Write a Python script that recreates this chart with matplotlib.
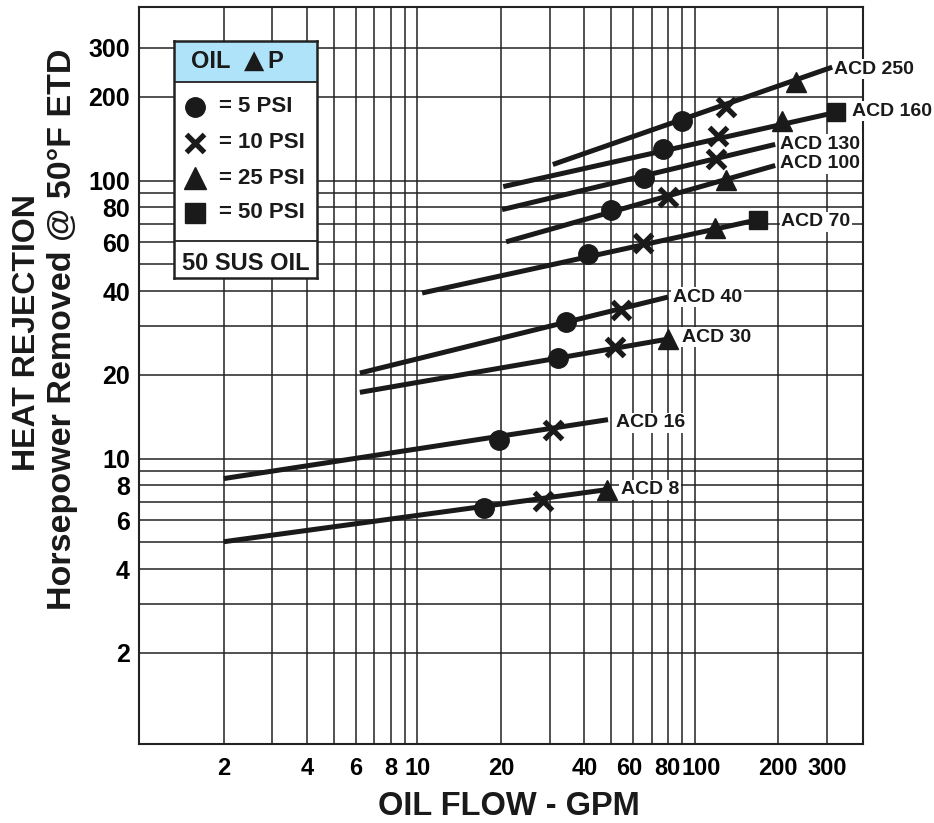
import matplotlib
matplotlib.use('Agg')
import matplotlib.pyplot as plt
from matplotlib.patches import Rectangle
from matplotlib.ticker import NullFormatter
from matplotlib.transforms import ScaledTranslation

plt.rcParams['font.family'] = ['Liberation Sans', 'DejaVu Sans']
plt.rcParams['font.weight'] = 'bold'

# heat exchanger models, lines (flow GPM, HP removed)
models = ['ACD 8', 'ACD 16', 'ACD 30', 'ACD 40', 'ACD 70',
          'ACD 100', 'ACD 130', 'ACD 160', 'ACD 250']
line_flow_start = [2.0, 2.0, 6.2, 6.2, 10.4, 20.9, 20.2, 20.4, 30.8]
line_hp_start = [5.02, 8.47, 17.3, 20.3, 39.4, 60.2, 78.6, 95.1, 114.2]
line_flow_end = [48.3, 48.7, 80.2, 80.2, 169.5, 195.3, 195.3, 324.2, 313.6]
line_hp_end = [7.73, 13.8, 26.9, 38.1, 72.3, 113.3, 134.9, 176.0, 255.8]

# pressure drop points (None = no point on that line)
flow_5psi = [17.4, 19.7, 32.2, 34.4, 41.3, 49.9, 65.7, 76.9, 90.1]
hp_5psi = [6.65, 11.7, 23.0, 31.0, 54.5, 78.6, 102.5, 129.4, 163.3]
flow_10psi = [28.4, 30.8, 51.6, 54.3, 65.2, 80.2, 119.6, 121.6, 130.0]
hp_10psi = [7.05, 12.7, 25.2, 34.2, 59.7, 87.5, 119.1, 144.1, 183.4]
flow_25psi = [48.3, None, 80.2, None, 118.6, 130.0, None, 206.9, 232.5]
hp_25psi = [7.73, None, 26.9, None, 67.7, 100.8, None, 163.3, 225.9]
flow_50psi = [None, None, None, None, 169.5, None, None, 324.2, None]
hp_50psi = [None, None, None, None, 72.3, None, None, 176.0, None]

tick_vals = [2, 4, 6, 8, 10, 20, 40, 60, 80, 100, 200, 300]
grid_vals = [2, 3, 4, 5, 6, 7, 8, 9, 10, 20, 30, 40, 50, 60, 70, 80, 90,
             100, 200, 300]

# label offsets (points) from the end of each line
label_offsets = [(10, 0), (5.8, -2.2), (10, 1.4), (3.6, 0), (16.6, -1.4),
                 (3.6, 1.4), (3.6, 0), (11.5, 0.7), (1.5, -1.5)]

fig = plt.figure(figsize=(9.34, 8.23), dpi=100)
ax = fig.add_axes([139 / 934, 1 - 744 / 823, 724 / 934, 737 / 823])
ax.set_xscale('log')
ax.set_yscale('log')
ax.set_xlim(0.99, 405)
ax.set_ylim(0.94, 421)

ax.set_xticks(tick_vals)
ax.set_xticklabels([str(v) for v in tick_vals], fontsize=17)
ax.set_yticks(tick_vals)
ax.set_yticklabels([str(v) for v in tick_vals], fontsize=18)
ax.set_xticks(grid_vals, minor=True)
ax.set_yticks(grid_vals, minor=True)
ax.xaxis.set_minor_formatter(NullFormatter())
ax.yaxis.set_minor_formatter(NullFormatter())
ax.tick_params(which='both', length=0)
ax.tick_params(axis='x', pad=9.5)
ax.tick_params(axis='y', pad=6.5)
ax.grid(True, which='both', color='#222222', lw=1.1)
ax.set_axisbelow(True)
for s in ax.spines.values():
    s.set_linewidth(1.5)
    s.set_color('#222222')

# nudge the crowded 60 / 100 labels apart like the original
nudge = {60: -3.0, 100: 5.0}
for t, v in zip(ax.xaxis.get_major_ticks(), tick_vals):
    if v in nudge:
        t.label1.set_transform(t.label1.get_transform() +
                               ScaledTranslation(nudge[v] / 72, 0,
                                                 fig.dpi_scale_trans))

mk = dict(color='#1a1a1a', zorder=4, ls='none')
for i, name in enumerate(models):
    ax.plot([line_flow_start[i], line_flow_end[i]],
            [line_hp_start[i], line_hp_end[i]],
            color='#1a1a1a', lw=3.6, solid_capstyle='butt', zorder=3)
    if flow_5psi[i] is not None:
        ax.plot(flow_5psi[i], hp_5psi[i], marker='o', ms=14, **mk)
    if flow_10psi[i] is not None:
        ax.plot(flow_10psi[i], hp_10psi[i], marker='x', ms=13, mew=3.8, **mk)
    if flow_25psi[i] is not None:
        ax.plot(flow_25psi[i], hp_25psi[i], marker='^', ms=15, **mk)
    if flow_50psi[i] is not None:
        ax.plot(flow_50psi[i], hp_50psi[i], marker='s', ms=13.5, **mk)
    ax.annotate(name, xy=(line_flow_end[i], line_hp_end[i]),
                xytext=label_offsets[i], textcoords='offset points',
                ha='left', va='center', fontsize=14, color='#1a1a1a',
                bbox=dict(boxstyle='square,pad=0.08', fc='white', ec='none'),
                zorder=5)

# axis titles
fig.text(27 / 934, 1 - 333 / 823, 'HEAT REJECTION', rotation=90,
         ha='center', va='center', fontsize=23, color='#1a1a1a')
fig.text(63 / 934, 1 - 329 / 823, 'Horsepower Removed @ 50°F ETD',
         rotation=90, ha='center', va='center', fontsize=24.5,
         color='#1a1a1a')
fig.text(509 / 934, 1 - 815 / 823, 'OIL FLOW - GPM', ha='center',
         va='baseline', fontsize=23.5, color='#1a1a1a')

# legend box drawn in pixel units
lg = fig.add_axes([174 / 934, 1 - 278 / 823, 143 / 934, 237 / 823], zorder=10)
lg.set_xlim(0, 143)
lg.set_ylim(237, 0)
lg.set_xticks([])
lg.set_yticks([])
lg.set_facecolor('white')
for s in lg.spines.values():
    s.set_linewidth(1.8)
    s.set_color('#222222')
lg.add_patch(Rectangle((0, 0), 143, 41, fc='#aee3fa', ec='none'))
lg.axhline(41, color='#222222', lw=1.3)
lg.axhline(200, color='#222222', lw=1.3)
lg.text(17, 21, 'OIL', ha='left', va='center', fontsize=17, color='#1a1a1a')
lg.text(70, 20, '\u25B2', ha='left', va='center', fontsize=19,
        family='DejaVu Sans', color='#1a1a1a')
lg.text(93, 21, 'P', ha='left', va='center', fontsize=17, color='#1a1a1a')
rows = [('o', '= 5 PSI', 14, 0), ('x', '= 10 PSI', 12.5, 3.8),
        ('^', '= 25 PSI', 16, 0), ('s', '= 50 PSI', 14.5, 0)]
for j, (m, txt, ms, mew) in enumerate(rows):
    yy = [66, 102, 137, 172][j]
    if m == 'x':
        lg.plot(21, yy, marker=m, ms=ms, mew=mew, color='#1a1a1a')
    else:
        lg.plot(21, yy, marker=m, ms=ms, color='#1a1a1a')
    lg.text(45, yy, txt, ha='left', va='center', fontsize=16,
            color='#1a1a1a')
lg.text(71.5, 222, '50 SUS OIL', ha='center', va='center', fontsize=17,
        color='#1a1a1a')

fig.savefig('out.png', dpi=100)
